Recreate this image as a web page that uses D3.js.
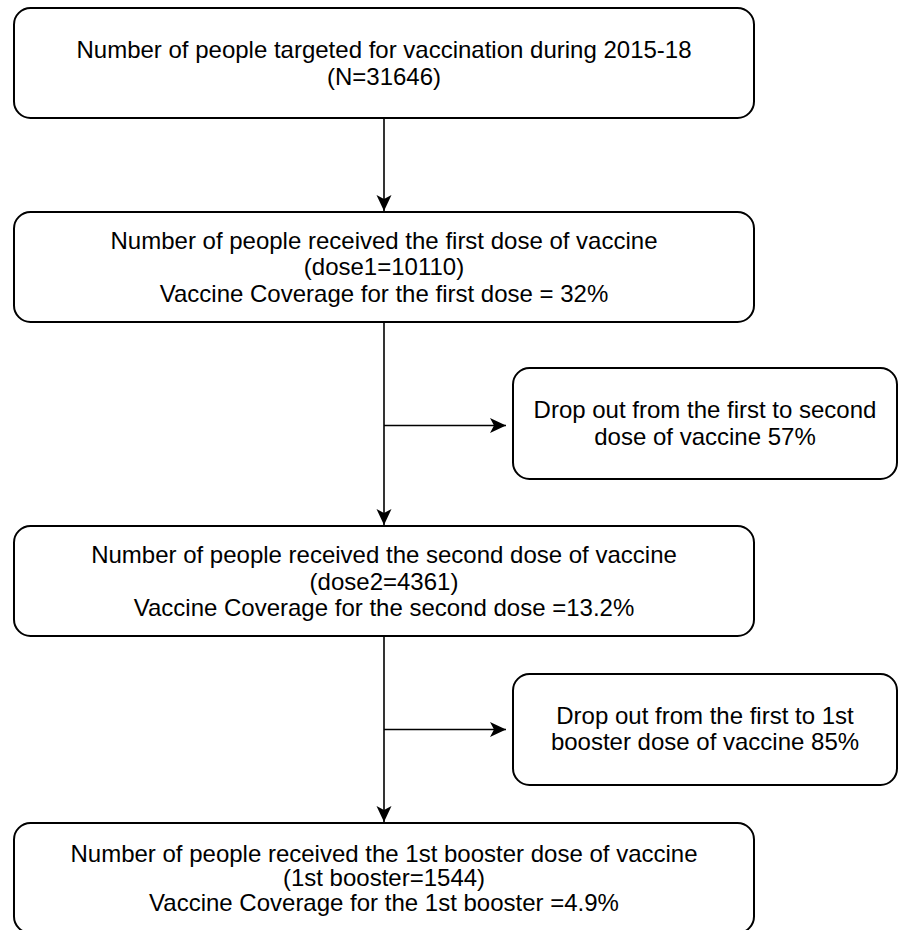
<!DOCTYPE html>
<html>
<head>
<meta charset="utf-8">
<script src="https://cdn.jsdelivr.net/npm/d3@7"></script>
<style>
  html, body { margin: 0; padding: 0; background: #fff; }
  svg { display: block; }
</style>
</head>
<body>
<svg id="chart" width="898" height="930"></svg>
<script>
// ---- Data ----
const mainSteps = [
  ["Number of people targeted for vaccination during 2015-18", "(N=31646)"],
  ["Number of people received the first dose of vaccine", "(dose1=10110)", "Vaccine Coverage for the first dose = 32%"],
  ["Number of people received the second dose of vaccine", "(dose2=4361)", "Vaccine Coverage for the second dose =13.2%"],
  ["Number of people received the 1st booster dose of vaccine", "(1st booster=1544)", "Vaccine Coverage for the 1st booster =4.9%"]
];
const dropOuts = [
  ["Drop out from the first to second", "dose of vaccine 57%"],
  ["Drop out from the first to 1st", "booster dose of vaccine 85%"]
];

// ---- Layout ----
const svg = d3.select("#chart");
const font = "'Liberation Sans', Arial, Helvetica, sans-serif";
const fs = 24;

const mainX = 14, mainW = 740, boxH = 110, rx = 16.5;
const mainTops = [8, 212, 526, 823];
const firstBaseline = [58.3, 248.6, 563, 861.5];
const lineGap = [26.7, 26.8, 26.7, 24.8];

const sideX = 513, sideW = 384, sideH = 111;
const sideTops = [368, 674];
const sideBaseline = [418.3, 723.5];
const sideGap = 26.7;
const branchY = [425.5, 729.5];

const cx = mainX + mainW / 2;

// arrow marker
const defs = svg.append("defs");
defs.append("marker")
  .attr("id", "arrow")
  .attr("viewBox", "-17 -8 18 16")
  .attr("refX", 0).attr("refY", 0)
  .attr("markerUnits", "userSpaceOnUse")
  .attr("markerWidth", 18).attr("markerHeight", 16)
  .attr("orient", "auto")
  .append("path")
  .attr("d", "M0,0 L-16,-7.5 L-12,0 L-16,7.5 Z")
  .attr("fill", "#000");

// main boxes
const mg = svg.selectAll("g.main").data(mainSteps).join("g").attr("class", "main");
mg.append("rect")
  .attr("x", mainX).attr("y", (d, i) => mainTops[i])
  .attr("width", mainW).attr("height", boxH)
  .attr("rx", rx).attr("ry", rx)
  .attr("fill", "#fff").attr("stroke", "#000").attr("stroke-width", 2);
mg.each(function(lines, i) {
  d3.select(this).selectAll("text").data(lines).join("text")
    .attr("x", cx)
    .attr("y", (t, j) => firstBaseline[i] + j * lineGap[i])
    .attr("text-anchor", "middle")
    .attr("font-family", font).attr("font-size", fs)
    .attr("fill", "#000")
    .text(t => t);
});

// side boxes
const sg = svg.selectAll("g.side").data(dropOuts).join("g").attr("class", "side");
sg.append("rect")
  .attr("x", sideX).attr("y", (d, i) => sideTops[i])
  .attr("width", sideW).attr("height", sideH)
  .attr("rx", rx).attr("ry", rx)
  .attr("fill", "#fff").attr("stroke", "#000").attr("stroke-width", 2);
sg.each(function(lines, i) {
  d3.select(this).selectAll("text").data(lines).join("text")
    .attr("x", sideX + sideW / 2)
    .attr("y", (t, j) => sideBaseline[i] + j * sideGap)
    .attr("text-anchor", "middle")
    .attr("font-family", font).attr("font-size", fs)
    .attr("fill", "#000")
    .text(t => t);
});

// vertical connectors
for (let i = 0; i < mainTops.length - 1; i++) {
  svg.append("line")
    .attr("x1", cx).attr("x2", cx)
    .attr("y1", mainTops[i] + boxH).attr("y2", mainTops[i + 1] - 1)
    .attr("stroke", "#000").attr("stroke-width", 1.6)
    .attr("marker-end", "url(#arrow)");
}
// branch connectors
branchY.forEach(y => {
  svg.append("line")
    .attr("x1", cx).attr("x2", sideX - 7)
    .attr("y1", y).attr("y2", y)
    .attr("stroke", "#000").attr("stroke-width", 1.6)
    .attr("marker-end", "url(#arrow)");
});
</script>
</body>
</html>
